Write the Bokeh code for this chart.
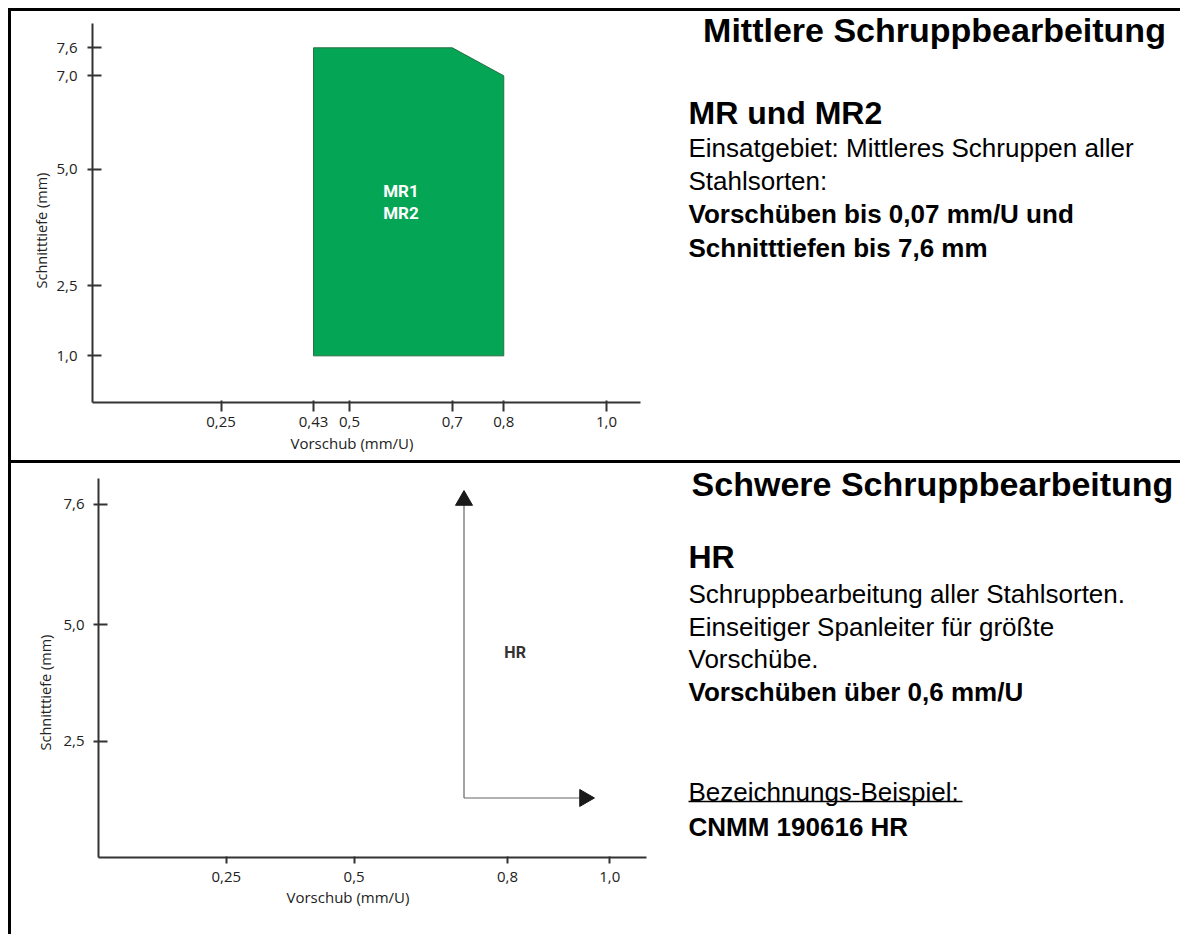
import math
from bokeh.plotting import figure
from bokeh.models import Range1d, FixedTicker, Label, Spacer, Title
from bokeh.layouts import column, row
from bokeh.embed import file_html
from bokeh.resources import INLINE
from bokeh.core.properties import value

# ---------------- data ----------------
# Chart 1: Mittlere Schruppbearbeitung (MR1 / MR2)
mr_x_ticks = [0.25, 0.43, 0.5, 0.7, 0.8, 1.0]
mr_x_labels = ["0,25", "0,43", "0,5", "0,7", "0,8", "1,0"]
mr_y_ticks = [1.0, 2.5, 5.0, 7.0, 7.6]
mr_y_labels = ["1,0", "2,5", "5,0", "7,0", "7,6"]
mr_area_feed = [0.43, 0.43, 0.7, 0.8, 0.8]      # Vorschub (mm/U)
mr_area_depth = [1.0, 7.6, 7.6, 7.0, 1.0]       # Schnitttiefe (mm)
mr_names = ["MR1", "MR2"]
mr_name_feed = [0.60, 0.60]
mr_name_depth = [4.53, 4.06]

# Chart 2: Schwere Schruppbearbeitung (HR)
hr_x_ticks = [0.25, 0.5, 0.8, 1.0]
hr_x_labels = ["0,25", "0,5", "0,8", "1,0"]
hr_y_ticks = [2.5, 5.0, 7.6]
hr_y_labels = ["2,5", "5,0", "7,6"]
hr_origin_feed = 0.715
hr_origin_depth = 1.28
hr_depth_head = 7.68     # arrow head (centre) on the depth arrow
hr_feed_head = 0.951     # arrow head (centre) on the feed arrow
hr_name = "HR"
hr_name_feed = 0.815
hr_name_depth = 4.41

x_title = "Vorschub (mm/U)"
y_title = "Schnitttiefe (mm)"

# Right-hand texts
title1 = "Mittlere Schruppbearbeitung"
sub1 = "MR und MR2"
body1 = ["Einsatgebiet: Mittleres Schruppen aller", "Stahlsorten:"]
bold1 = ["Vorschüben bis 0,07 mm/U und", "Schnitttiefen bis 7,6 mm"]

title2 = "Schwere Schruppbearbeitung"
sub2 = "HR"
body2 = ["Schruppbearbeitung aller Stahlsorten.", "Einseitiger Spanleiter für größte", "Vorschübe."]
bold2 = ["Vorschüben über 0,6 mm/U"]
example_label = "Bezeichnungs-Beispiel:"
example_value = "CNMM 190616 HR"

# ---------------- styling ----------------
CHART_FONT = "Open Sans"
TEXT_FONT = "Liberation Sans"
AX_COLOR = "#333333"
LBL_COLOR = "#222222"

PAD = 8          # white page margin before the table border
BORDER = 3       # table border thickness
LEFT_W = 657     # chart column width
RIGHT_W = 512    # text column width
ROW1_H = 449
ROW2_H = 471


def chart(height, mb, xr, yr, y_axis_top, xticks, xlabels, yticks, ylabels,
          x_in, x_out, x_stand, y_stand, xt_offset, yt_offset, xt_standoff, yt_standoff):
    p = figure(width=LEFT_W, height=height, x_range=Range1d(*xr), y_range=Range1d(*yr),
               toolbar_location=None, output_backend="svg", title=None,
               min_border_left=mb[0], min_border_right=mb[1], min_border_top=0, min_border_bottom=mb[2],
               outline_line_color=None, background_fill_color="white", border_fill_color="white")
    p.xgrid.grid_line_color = None
    p.ygrid.grid_line_color = None
    p.xaxis.ticker = FixedTicker(ticks=xticks)
    p.yaxis.ticker = FixedTicker(ticks=yticks)
    p.xaxis.major_label_overrides = dict(zip(xticks, xlabels))
    p.yaxis.major_label_overrides = dict(zip(yticks, ylabels))
    p.yaxis.bounds = (yr[0], y_axis_top)
    for ax in (p.xaxis[0], p.yaxis[0]):
        ax.axis_line_color = AX_COLOR
        ax.axis_line_width = 2
        ax.major_tick_line_color = AX_COLOR
        ax.major_tick_line_width = 2
        ax.minor_tick_line_color = None
        ax.major_label_text_font = CHART_FONT
        ax.major_label_text_font_size = "15px"
        ax.major_label_text_color = LBL_COLOR
    p.xaxis.major_tick_in = x_in
    p.xaxis.major_tick_out = x_out
    p.xaxis.major_label_standoff = x_stand
    p.yaxis.major_tick_in = 9
    p.yaxis.major_tick_out = 5
    p.yaxis.major_label_standoff = y_stand
    # axis titles (positioned like in the original, not centred on the frame)
    p.add_layout(Title(text=x_title, align="left", offset=xt_offset, standoff=xt_standoff, vertical_align="top",
                       text_font=CHART_FONT, text_font_size="15px", text_font_style="normal",
                       text_color=LBL_COLOR), "below")
    p.add_layout(Title(text=y_title, align="left", offset=yt_offset, standoff=yt_standoff, vertical_align="bottom",
                       text_font=CHART_FONT, text_font_size="14.5px", text_font_style="normal",
                       text_color=LBL_COLOR), "left")
    return p


# ---- chart 1 ----  (frame: page y 11..402, x 92..640)
c1 = chart(ROW1_H, (81, 28, 58), (0, 1.066), (0, 8.378), 8.12,
           mr_x_ticks, mr_x_labels, mr_y_ticks, mr_y_labels, 2, 9, 5, 10, 198, 114, 6, 6)
c1.patch(mr_area_feed, mr_area_depth, fill_color="#04a656", line_color="#2b6e45", line_width=1)
c1.text(x=mr_name_feed, y=mr_name_depth, text=mr_names, text_align="center", text_baseline="middle",
        text_font=value("Roboto"), text_font_style="bold", text_font_size="17px", text_color="white")

# ---- chart 2 ----  (frame: page y 463..857, x 98..646)
c2 = chart(ROW2_H, (87, 22, 77), (0, 1.072), (0, 8.473), 8.15,
           hr_x_ticks, hr_x_labels, hr_y_ticks, hr_y_labels, 1, 6, 8, 9, 188, 107, 4, 12)
c2.segment(x0=[hr_origin_feed, hr_origin_feed], y0=[hr_origin_depth, hr_origin_depth],
           x1=[hr_origin_feed, hr_feed_head], y1=[hr_depth_head, hr_origin_depth],
           line_color="#666666", line_width=1.2)
c2.scatter(x=[hr_origin_feed, hr_feed_head], y=[hr_depth_head, hr_origin_depth],
           marker="triangle", size=17, angle=[0, -math.pi / 2],
           fill_color="#1a1a1a", line_color="#1a1a1a")
c2.text(x=[hr_name_feed], y=[hr_name_depth], text=[hr_name], text_align="center", text_baseline="middle",
        text_font=value("Roboto"), text_font_style="bold", text_font_size="16px", text_color="#333333")


# ---- text panels (data coordinates = page pixels; frame aligned with the chart frame) ----
def text_panel(height, frame_top, frame_bottom):
    x0 = PAD + BORDER + LEFT_W
    p = figure(width=RIGHT_W, height=height, x_range=Range1d(x0, x0 + RIGHT_W),
               y_range=Range1d(frame_bottom, frame_top), toolbar_location=None, output_backend="svg",
               title=None, min_border_left=0, min_border_right=0, min_border_top=0, min_border_bottom=0,
               x_axis_type=None, y_axis_type=None, outline_line_color=None,
               background_fill_color="white", border_fill_color="white")
    return p


def put(p, x, y, text, size, bold=False, align="left"):
    p.add_layout(Label(x=x, y=y, text=text, text_font=TEXT_FONT, text_font_size=size,
                       text_font_style="bold" if bold else "normal", text_color="black",
                       text_align=align, text_baseline="alphabetic"))


row1_top = PAD + BORDER
row2_top = row1_top + ROW1_H + BORDER

t1 = text_panel(ROW1_H, row1_top, row1_top + ROW1_H - 58)
put(t1, 934, 29, title1, "34px", True, "center")
put(t1, 688, 112, sub1, "32px", True)
put(t1, 688, 147, body1[0], "26px")
put(t1, 688, 180, body1[1], "26px")
put(t1, 688, 213, bold1[0], "26px", True)
put(t1, 688, 247, bold1[1], "26px", True)
t1.scatter([688], [40], alpha=0)

t2 = text_panel(ROW2_H, row2_top, row2_top + ROW2_H - 77)
put(t2, 932, 483, title2, "34px", True, "center")
put(t2, 688, 556, sub2, "32px", True)
put(t2, 688, 593, body2[0], "26px")
put(t2, 688, 626, body2[1], "26px")
put(t2, 688, 658, body2[2], "26px")
put(t2, 688, 691, bold2[0], "26px", True)
put(t2, 688, 791, example_label, "26px")
put(t2, 688, 826, example_value, "26px", True)
t2.segment(x0=[688], y0=[801], x1=[962], y1=[801], line_color="black", line_width=1.5)


# ---- border strips ----
def strip(w, h):
    return Spacer(width=w, height=h, styles={"background-color": "black"})


full_w = BORDER + LEFT_W + RIGHT_W
inner = column(
    strip(full_w, BORDER),
    row(strip(BORDER, ROW1_H), c1, t1),
    strip(full_w, BORDER),
    row(strip(BORDER, ROW2_H), c2, t2),
)
layout = column(Spacer(width=10, height=PAD), row(Spacer(width=PAD, height=10), inner))

open("out.html", "w").write(file_html(layout, INLINE))
